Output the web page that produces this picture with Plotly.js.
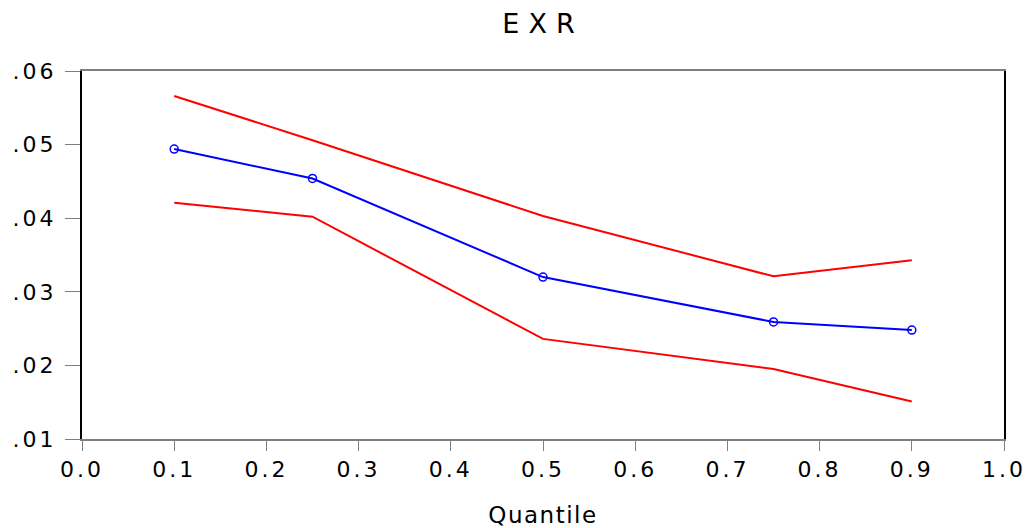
<!DOCTYPE html>
<html>
<head>
<meta charset="utf-8">
<script src="https://cdn.plot.ly/plotly-3.0.1.min.js"></script>
<style>
  html, body { margin: 0; padding: 0; background: #fff; }
  #chart { width: 1032px; height: 528px; }
  .xtick text, .ytick text { letter-spacing: 3px; }
  .gtitle { letter-spacing: 9px; }
  .g-xtitle text { letter-spacing: 1.5px; }
</style>
</head>
<body>
<div id="chart"></div>
<script>
const quantiles = [0.1, 0.25, 0.5, 0.75, 0.9];
const estimate  = [0.0494, 0.0454, 0.0320, 0.0259, 0.0248];
const upperBand = [0.0566, 0.0506, 0.0403, 0.0321, 0.0343];
const lowerBand = [0.0421, 0.0402, 0.0236, 0.0195, 0.0151];
const yTickVals = [0.01, 0.02, 0.03, 0.04, 0.05, 0.06];
const yTickText = ['.01', '.02', '.03', '.04', '.05', '.06'];
const xTickVals = [0.0, 0.1, 0.2, 0.3, 0.4, 0.5, 0.6, 0.7, 0.8, 0.9, 1.0];
const xTickText = ['0.0', '0.1', '0.2', '0.3', '0.4', '0.5', '0.6', '0.7', '0.8', '0.9', '1.0'];

const FONT = 'DejaVu Sans, Liberation Sans, Arial, sans-serif';

const traces = [
  { x: quantiles, y: upperBand, mode: 'lines', line: { color: '#ff0000', width: 2 }, hoverinfo: 'skip' },
  { x: quantiles, y: lowerBand, mode: 'lines', line: { color: '#ff0000', width: 2 }, hoverinfo: 'skip' },
  { x: quantiles, y: estimate, mode: 'lines+markers',
    line: { color: '#0000ff', width: 2 },
    marker: { symbol: 'circle-open', size: 8, color: '#0000ff', line: { width: 1.5, color: '#0000ff' } } }
];

const layout = {
  width: 1032, height: 528,
  margin: { l: 82, r: 28, t: 71, b: 89 },
  paper_bgcolor: '#ffffff', plot_bgcolor: '#ffffff',
  showlegend: false,
  font: { family: FONT, color: '#000', size: 22 },
  title: { text: 'EXR', font: { family: FONT, size: 27, color: '#000' },
           x: 0.5, xanchor: 'center', xref: 'paper', y: 1 - 24 / 528, yanchor: 'middle', yref: 'container' },
  xaxis: {
    range: [0, 1], tickvals: xTickVals, ticktext: xTickText,
    showgrid: false, zeroline: false,
    showline: true, linecolor: '#808080', linewidth: 2, mirror: true,
    ticks: 'outside', ticklen: 10, tickcolor: '#808080', tickwidth: 1,
    tickfont: { family: FONT, size: 22, color: '#000' },
    title: { text: 'Quantile', font: { family: FONT, size: 23, color: '#000' }, standoff: 28 }
  },
  yaxis: {
    range: [0.01, 0.06], tickvals: yTickVals, ticktext: yTickText,
    showgrid: false, zeroline: false,
    showline: true, linecolor: '#000000', linewidth: 2, mirror: true,
    ticks: 'outside', ticklen: 15, tickcolor: '#808080', tickwidth: 1,
    ticklabelstandoff: 4,
    tickfont: { family: FONT, size: 22, color: '#000' }
  }
};

Plotly.newPlot('chart', traces, layout, { staticPlot: true, displayModeBar: false });
</script>
</body>
</html>
